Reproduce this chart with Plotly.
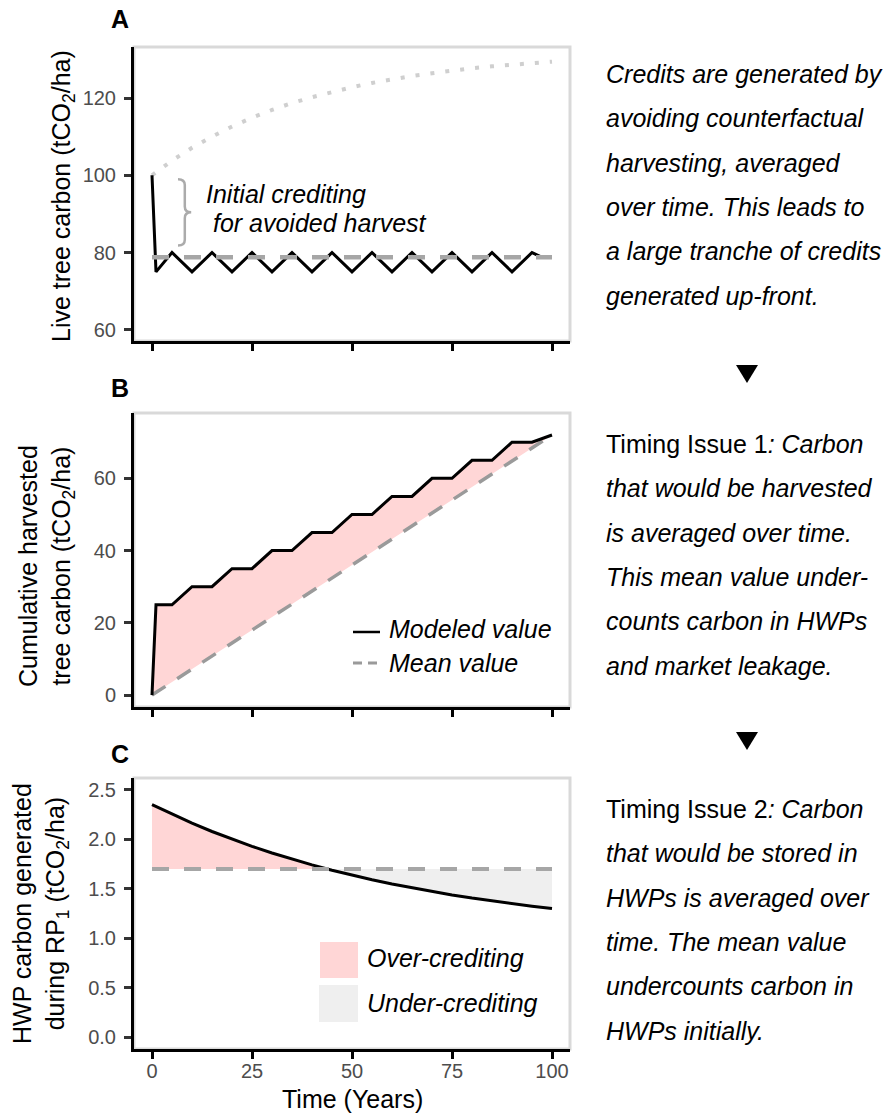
import numpy as np
import plotly.graph_objects as go

# ---------------- data ----------------
# Panel A: live tree carbon (tCO2/ha)
years_no_harvest = [0, 5, 10, 15, 20, 25, 30, 35, 40, 45, 50, 55, 60, 65, 70, 75, 80, 85, 90, 95, 100]
live_no_harvest = [100.0, 103.8, 107.1, 110.0, 112.6, 114.9, 116.9, 118.7, 120.2, 121.6, 122.8,
                   123.9, 124.9, 125.7, 126.4, 127.1, 127.7, 128.2, 128.6, 129.0, 129.4]
years_live = [0, 1, 5, 10, 15, 20, 25, 30, 35, 40, 45, 50, 55, 60, 65, 70, 75, 80, 85, 90, 95, 97, 100]
live_harvest = [100, 75, 80, 75, 80, 75, 80, 75, 80, 75, 80, 75, 80, 75, 80, 75, 80, 75, 80, 75, 80, 79, 79]
live_mean = 78.8

# Panel B: cumulative harvested tree carbon (tCO2/ha)
years_cum = [0, 1, 5, 10, 15, 20, 25, 30, 35, 40, 45, 50, 55, 60, 65, 70, 75, 80, 85, 90, 95, 100]
cum_harvest = [0, 25, 25, 30, 30, 35, 35, 40, 40, 45, 45, 50, 50, 55, 55, 60, 60, 65, 65, 70, 70, 72]
years_cum_mean = [0, 100]
cum_harvest_mean = [0, 72]

# Panel C: HWP carbon generated during RP1 (tCO2/ha)
years_hwp = [0, 5, 10, 15, 20, 25, 30, 35, 40, 45, 50, 55, 60, 65, 70, 75, 80, 85, 90, 95, 100]
hwp_modeled = [2.350, 2.253, 2.163, 2.079, 2.001, 1.929, 1.862, 1.800, 1.742, 1.688, 1.639,
               1.592, 1.549, 1.510, 1.473, 1.438, 1.406, 1.377, 1.349, 1.324, 1.300]
hwp_mean = 1.70

x_ticks = [0, 25, 50, 75, 100]
ticks_a = [60, 80, 100, 120]
ticks_b = [0, 20, 40, 60]
ticks_c = [0.0, 0.5, 1.0, 1.5, 2.0, 2.5]

# ---------------- styling ----------------
W, H = 890, 1113
FONT = "Liberation Sans, Arial, sans-serif"
BLACK = "#000000"
DASH_GREY = "#a6a6a6"
DOT_GREY = "#cfcfcf"
PINK = "#ffd6d6"
LIGHT_GREY = "#efefef"
BORDER = "#d9d9d9"
TICK_TXT = "#4d4d4d"


def fx(px):
    return px / W


def fy(py):
    return 1 - py / H


fig = go.Figure()

# ---- Panel A ----
fig.add_trace(go.Scatter(x=years_no_harvest, y=live_no_harvest, mode="lines",
                         line=dict(color=DOT_GREY, width=4, dash="4px,11px"),
                         xaxis="x", yaxis="y", hoverinfo="skip"))
fig.add_trace(go.Scatter(x=years_live, y=live_harvest, mode="lines",
                         line=dict(color=BLACK, width=3), xaxis="x", yaxis="y"))
fig.add_trace(go.Scatter(x=[years_live[0], years_live[-1]], y=[live_mean, live_mean], mode="lines",
                         line=dict(color=DASH_GREY, width=4.5, dash="17px,15px"),
                         xaxis="x", yaxis="y"))

# ---- Panel B ----
poly_x = list(years_cum) + years_cum_mean[::-1]
poly_y = list(cum_harvest) + cum_harvest_mean[::-1]
fig.add_trace(go.Scatter(x=poly_x, y=poly_y, mode="lines", fill="toself", fillcolor=PINK,
                         line=dict(width=0), xaxis="x2", yaxis="y2", hoverinfo="skip"))
fig.add_trace(go.Scatter(x=years_cum_mean, y=cum_harvest_mean, mode="lines",
                         line=dict(color="#9a9a9a", width=3.5, dash="16px,14px"),
                         xaxis="x2", yaxis="y2"))
fig.add_trace(go.Scatter(x=years_cum, y=cum_harvest, mode="lines",
                         line=dict(color=BLACK, width=3), xaxis="x2", yaxis="y2"))

# ---- Panel C ----
yrs = np.array(years_hwp, dtype=float)
vals = np.array(hwp_modeled, dtype=float)
diff = vals - hwp_mean
t_cross = float(np.interp(0.0, diff[::-1], yrs[::-1]))
over = yrs < t_cross
over_x = list(yrs[over]) + [t_cross, yrs[0]]
over_y = list(vals[over]) + [hwp_mean, hwp_mean]
under_x = [t_cross] + list(yrs[~over]) + [yrs[-1]]
under_y = [hwp_mean] + list(vals[~over]) + [hwp_mean]
fig.add_trace(go.Scatter(x=over_x, y=over_y, mode="lines", fill="toself", fillcolor=PINK,
                         line=dict(width=0), xaxis="x3", yaxis="y3", hoverinfo="skip"))
fig.add_trace(go.Scatter(x=under_x, y=under_y, mode="lines", fill="toself", fillcolor=LIGHT_GREY,
                         line=dict(width=0), xaxis="x3", yaxis="y3", hoverinfo="skip"))
fig.add_trace(go.Scatter(x=years_hwp, y=hwp_modeled, mode="lines",
                         line=dict(color=BLACK, width=3), xaxis="x3", yaxis="y3"))
fig.add_trace(go.Scatter(x=[yrs[0], yrs[-1]], y=[hwp_mean, hwp_mean], mode="lines",
                         line=dict(color=DASH_GREY, width=4, dash="17px,15px"),
                         xaxis="x3", yaxis="y3"))

# ---------------- axes ----------------
x_dom = [fx(134), fx(570)]


def xaxis(anchor, labels):
    return dict(domain=x_dom, range=[-4.5, 104.5], anchor=anchor, tickvals=x_ticks,
                ticks="outside", ticklen=7, tickwidth=3, tickcolor=BLACK,
                showline=True, linecolor=BLACK, linewidth=3, showgrid=False, zeroline=False,
                showticklabels=labels, ticklabelstandoff=-5,
                tickfont=dict(family=FONT, size=20, color=TICK_TXT))


def yaxis(anchor, dom, rng, tv, fmt=None):
    d = dict(domain=dom, range=rng, anchor=anchor, tickvals=tv,
             ticks="outside", ticklen=7, tickwidth=3, tickcolor="#333333",
             showline=True, linecolor=BLACK, linewidth=3, showgrid=False, zeroline=False,
             ticklabelstandoff=4, tickfont=dict(family=FONT, size=20, color=TICK_TXT))
    if fmt:
        d["tickformat"] = fmt
    return d


fig.update_layout(
    width=W, height=H, margin=dict(l=0, r=0, t=0, b=0),
    paper_bgcolor="white", plot_bgcolor="white", showlegend=False,
    font=dict(family=FONT, size=25, color=BLACK),
    xaxis=xaxis("y", False),
    yaxis=yaxis("x", [fy(341), fy(47)], [57.1, 133.2], ticks_a),
    xaxis2=xaxis("y2", False),
    yaxis2=yaxis("x2", [fy(707), fy(413)], [-3.3, 78.1], ticks_b),
    xaxis3=xaxis("y3", True),
    yaxis3=yaxis("x3", [fy(1049), fy(778)], [-0.12, 2.62], ticks_c, ".1f"),
)

shapes = []
# light panel borders
for xr, yr in [("x", "y"), ("x2", "y2"), ("x3", "y3")]:
    shapes.append(dict(type="rect", xref=f"{xr} domain", yref=f"{yr} domain",
                       x0=0, x1=1, y0=0, y1=1, line=dict(color=BORDER, width=3), layer="below"))

# curly brace marking the initial credited drop in panel A
b_top = live_harvest[0] - 1
b_bot = live_mean + 3
b_mid = (b_top + b_bot) / 2
bx0, bxm, bx1 = 6.5, 8.2, 9.8
brace = (f"M {bx0},{b_top} Q {bxm},{b_top} {bxm},{b_top - 1.5} "
         f"L {bxm},{b_mid + 1.5} Q {bxm},{b_mid} {bx1},{b_mid} "
         f"Q {bxm},{b_mid} {bxm},{b_mid - 1.5} "
         f"L {bxm},{b_bot + 1.5} Q {bxm},{b_bot} {bx0},{b_bot}")
shapes.append(dict(type="path", xref="x", yref="y", path=brace,
                   line=dict(color="#ababab", width=2.5)))

# legend keys, panel B
shapes.append(dict(type="line", xref="paper", yref="paper", x0=fx(353), x1=fx(380),
                   y0=fy(632), y1=fy(632), line=dict(color=BLACK, width=2.5)))
shapes.append(dict(type="line", xref="paper", yref="paper", x0=fx(353), x1=fx(380),
                   y0=fy(663), y1=fy(663), line=dict(color="#9a9a9a", width=3, dash="9px,6px")))

# legend keys, panel C
shapes.append(dict(type="rect", xref="paper", yref="paper", x0=fx(320), x1=fx(358),
                   y0=fy(978), y1=fy(942), fillcolor=PINK, line=dict(width=0)))
shapes.append(dict(type="rect", xref="paper", yref="paper", x0=fx(319), x1=fx(358),
                   y0=fy(1022), y1=fy(985), fillcolor=LIGHT_GREY, line=dict(width=0)))

# down arrows between the explanatory notes
for cy in (374, 741):
    shapes.append(dict(type="path", xref="paper", yref="paper",
                       path=(f"M {fx(736)},{fy(cy - 9)} L {fx(758)},{fy(cy - 9)} "
                             f"L {fx(747)},{fy(cy + 9)} Z"),
                       fillcolor=BLACK, line=dict(width=0)))

fig.update_layout(shapes=shapes)

ann = []


def text(x, y, s, size=25, xa="left", ya="middle", angle=0, color=BLACK, bold=False):
    ann.append(dict(x=fx(x), y=fy(y), xref="paper", yref="paper", text=(f"<b>{s}</b>" if bold else s),
                    showarrow=False, xanchor=xa, yanchor=ya, textangle=angle,
                    font=dict(family=FONT, size=size, color=color)))


# panel tags
text(120, 19, "A", xa="center", bold=True)
text(120, 388, "B", xa="center", bold=True)
text(120, 754, "C", xa="center", bold=True)

# axis titles
text(63, 196, "Live tree carbon (tCO<sub>2</sub>/ha)", xa="center", angle=-90)
text(46, 566, "Cumulative harvested<br>tree carbon (tCO<sub>2</sub>/ha)", xa="center", angle=-90)
text(40, 914, "HWP carbon generated<br>during RP<sub>1</sub> (tCO<sub>2</sub>/ha)", xa="center", angle=-90)
text(352, 1099, "Time (Years)", xa="center")

# in-panel notes
text(204, 194, "<i>Initial crediting</i>")
text(204, 223, "<i> for avoided harvest</i>")
text(387, 629, "<i>Modeled value</i>")
text(387, 663, "<i>Mean value</i>")
text(365, 958, "<i>Over-crediting</i>")
text(365, 1003, "<i>Under-crediting</i>")

# explanatory notes on the right
notes_a = ["<i>Credits are generated by</i>", "<i>avoiding counterfactual</i>",
           "<i>harvesting, averaged</i>", "<i>over time. This leads to</i>",
           "<i>a large tranche of credits</i>", "<i>generated up-front.</i>"]
notes_b = ["Timing Issue 1<i>: Carbon</i>", "<i>that would be harvested</i>",
           "<i>is averaged over time.</i>", "<i>This mean value under-</i>",
           "<i>counts carbon in HWPs</i>", "<i>and market leakage.</i>"]
notes_c = ["Timing Issue 2<i>: Carbon</i>", "<i>that would be stored in</i>",
           "<i>HWPs is averaged over</i>", "<i>time. The mean value</i>",
           "<i>undercounts carbon in</i>", "<i>HWPs initially.</i>"]
for y0, lines in [(74, notes_a), (444, notes_b), (809, notes_c)]:
    for i, s in enumerate(lines):
        text(604, y0 + i * 44.3, s)

fig.update_layout(annotations=ann)

fig.write_html("out.html")
